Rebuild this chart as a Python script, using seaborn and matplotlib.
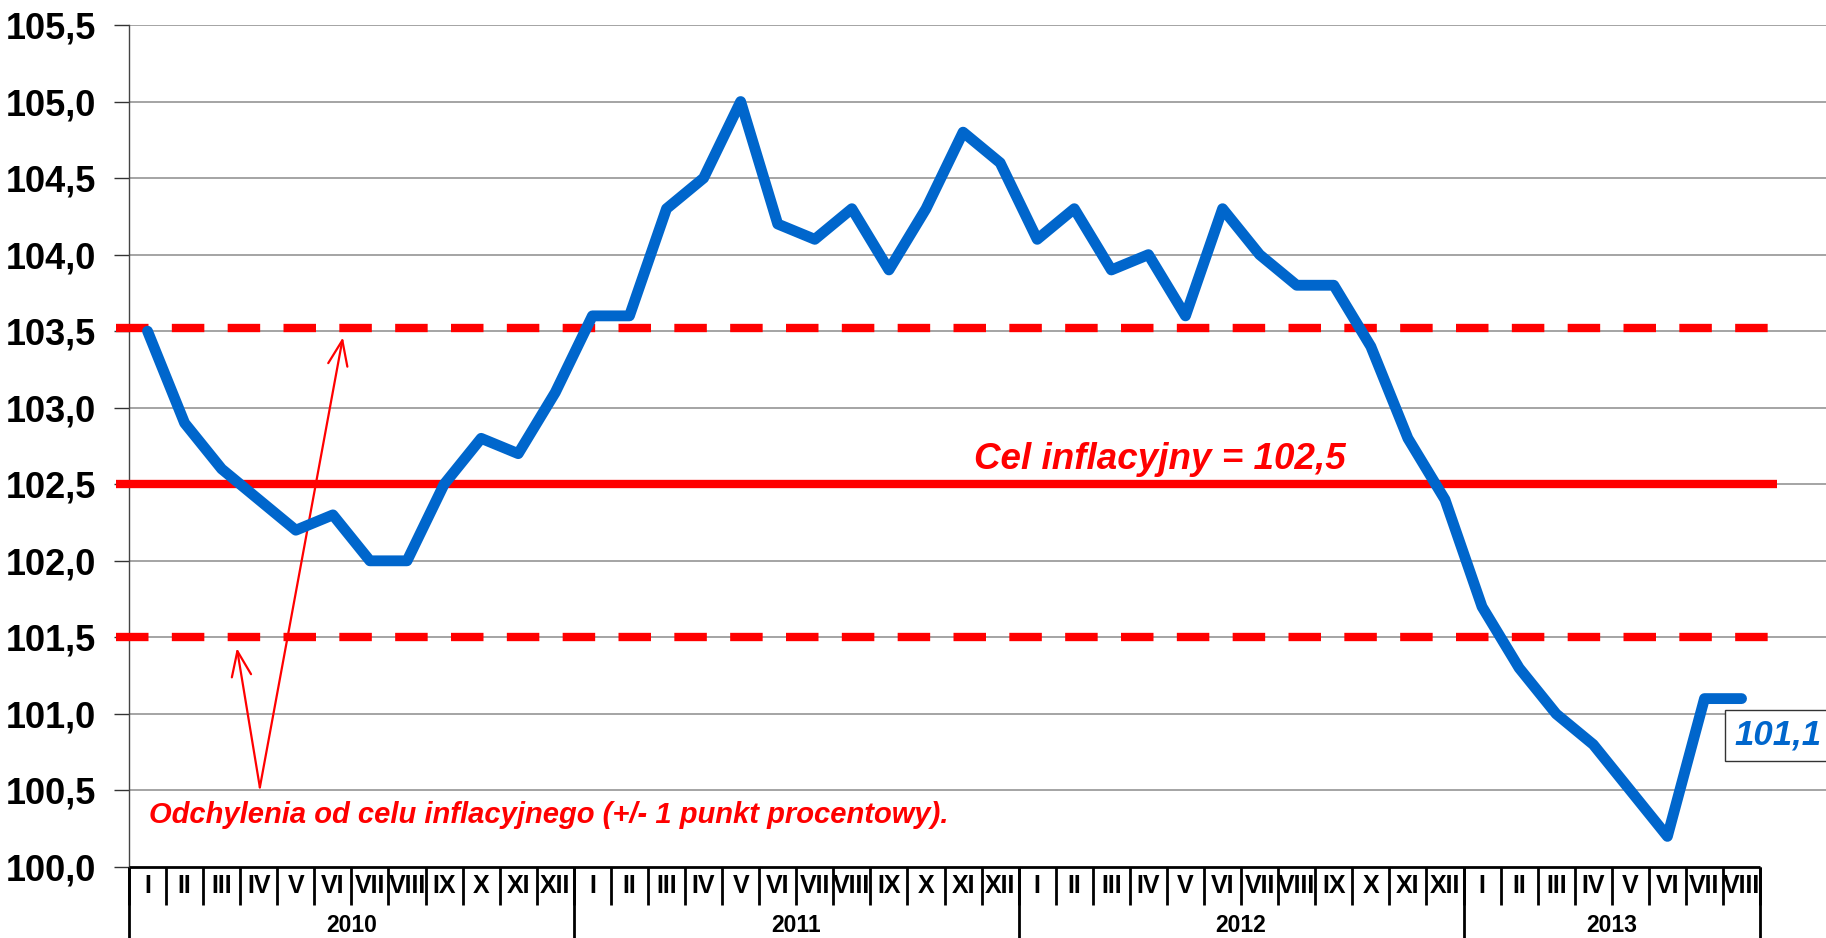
import matplotlib
matplotlib.use("Agg")
import matplotlib.pyplot as plt
import matplotlib.transforms as mtransforms
import seaborn as sns
import pandas as pd
import numpy as np

# ---- data ----
years = ["2010", "2011", "2012", "2013"]
months_per_year = [12, 12, 12, 8]
roman = ["I", "II", "III", "IV", "V", "VI", "VII", "VIII", "IX", "X", "XI", "XII"]
cpi = [103.5, 102.9, 102.6, 102.4, 102.2, 102.3, 102.0, 102.0, 102.5, 102.8, 102.7, 103.1,
       103.6, 103.6, 104.3, 104.5, 105.0, 104.2, 104.1, 104.3, 103.9, 104.3, 104.8, 104.6,
       104.1, 104.3, 103.9, 104.0, 103.6, 104.3, 104.0, 103.8, 103.8, 103.4, 102.8, 102.4,
       101.7, 101.3, 101.0, 100.8, 100.5, 100.2, 101.1, 101.1]
target = 102.5
band_upper = 103.5
band_lower = 101.5
yticks = [100.0, 100.5, 101.0, 101.5, 102.0, 102.5, 103.0, 103.5, 104.0, 104.5, 105.0, 105.5]
target_label = "Cel inflacyjny = 102,5"
band_label = "Odchylenia od celu inflacyjnego (+/- 1 punkt procentowy)."
last_label = "101,1"

month_labels = [roman[m] for n in months_per_year for m in range(n)]
df = pd.DataFrame({"idx": np.arange(len(cpi)), "cpi": cpi})
n = len(cpi)

sns.set_style("white")
plt.rcParams["font.family"] = ["Liberation Sans", "DejaVu Sans"]
plt.rcParams["text.color"] = "black"
plt.rcParams["ytick.color"] = "black"

fig = plt.figure(figsize=(18.26, 9.38), dpi=100)
ax = fig.add_axes([129/1826, 71/938, 1697/1826, 842/938])

red = "#FF0000"
blue = "#0066CC"

# gridlines
for t in yticks[1:]:
    ax.axhline(t, color="#8c8c8c", lw=1.1, zorder=1)

# reference lines
ax.hlines(band_upper + 0.02, -0.85, 43.95, colors=red, lw=6, linestyles=(0, (3.9, 2.8)),
          zorder=3, clip_on=False)
ax.hlines(band_lower, -0.85, 43.95, colors=red, lw=6, linestyles=(0, (3.9, 2.8)),
          zorder=3, clip_on=False)
ax.hlines(target, -0.85, 43.95, colors=red, lw=6, zorder=3, clip_on=False)

# main series
sns.lineplot(data=df, x="idx", y="cpi", ax=ax, color=blue, lw=7.8, zorder=4,
             solid_capstyle="round", solid_joinstyle="round")

ax.set_xlim(-0.5, -0.5 + 1697/37.07)
ax.set_ylim(100.0, 105.5)
ax.set_yticks(yticks)
ax.set_yticklabels([f"{t:.1f}".replace(".", ",") for t in yticks],
                   fontsize=26, fontweight="bold", color="black")
ax.tick_params(axis="y", direction="out", length=11, width=1, color="#333333", pad=13, left=True)
ax.set_xticks([])
ax.set_xlabel("")
ax.set_ylabel("")
for s in ["top", "right", "bottom"]:
    ax.spines[s].set_visible(False)
ax.spines["left"].set_color("#444444")
ax.spines["left"].set_linewidth(1)

# x axis line and category labels
ax.hlines(100.0, -0.5, n - 0.5, colors="black", lw=2, clip_on=False, zorder=5)
trans = mtransforms.blended_transform_factory(ax.transData, ax.transAxes)
for i in range(n + 1):
    ax.plot([i - 0.5, i - 0.5], [0, -0.045], transform=trans, color="black", lw=2,
            clip_on=False, solid_capstyle="butt")
for i, lab in enumerate(month_labels):
    ax.text(i, -0.022, lab, transform=trans, ha="center", va="center",
            fontsize=18, fontweight="bold", color="black")
start = 0
bounds = [0]
for y, m in zip(years, months_per_year):
    bounds.append(start + m)
    ax.text(start + m / 2 - 0.5, -0.07, y, transform=trans, ha="center", va="center",
            fontsize=16.5, fontweight="bold", color="black")
    start += m
for b in bounds:
    ax.plot([b - 0.5, b - 0.5], [0, -0.09], transform=trans, color="black", lw=2,
            clip_on=False, solid_capstyle="butt")

# annotations
ax.text(22.3, target + 0.16, target_label, color=red, fontsize=26.5, fontweight="bold",
        fontstyle="italic", ha="left", va="center")
ax.text(0.05, 100.34, band_label, color=red, fontsize=21, fontweight="bold",
        fontstyle="italic", ha="left", va="center")
for tip in [(2.41, band_lower - 0.07), (5.27, band_upper - 0.04)]:
    ax.annotate("", xy=tip, xytext=(3.03, 100.52),
                arrowprops=dict(arrowstyle="->,head_length=0.9,head_width=0.35",
                                color=red, lw=1.6, mutation_scale=20, shrinkA=0, shrinkB=0))

ax.text(n - 1 - 0.2, cpi[-1] - 0.24, last_label, color=blue, fontsize=25, fontweight="bold",
        fontstyle="italic", ha="left", va="center", zorder=6, clip_on=False,
        bbox=dict(boxstyle="square,pad=0.25", fc="white", ec="#333333", lw=1))

fig.savefig("out.png", dpi=100)
